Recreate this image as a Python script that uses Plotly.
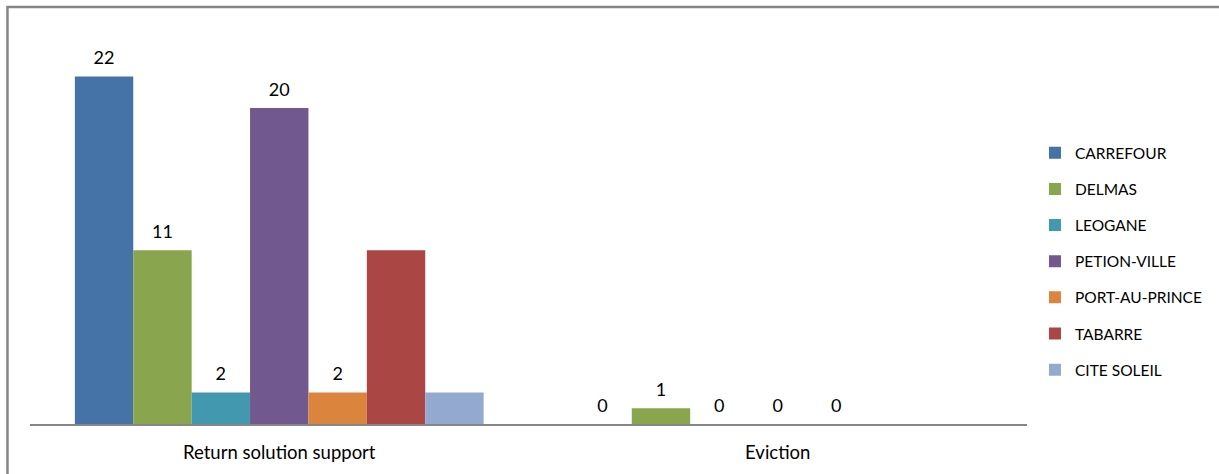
import plotly.graph_objects as go

categories = ["Return solution support", "Eviction"]
series_names = ["CARREFOUR", "DELMAS", "LEOGANE", "PETION-VILLE", "PORT-AU-PRINCE", "TABARRE", "CITE SOLEIL"]
carrefour = [22, 0]
delmas = [11, 1]
leogane = [2, 0]
petion_ville = [20, 0]
port_au_prince = [2, 0]
tabarre = [11, None]
cite_soleil = [2, None]
# which values carry a visible data label in the reference
show_labels = [
    [True, True],
    [True, True],
    [True, True],
    [True, True],
    [True, True],
    [False, False],
    [False, False],
]
colors = ["#4572A7", "#89A54E", "#4198AF", "#71588F", "#DB843D", "#AA4643", "#93A9CF"]

values = [carrefour, delmas, leogane, petion_ville, port_au_prince, tabarre, cite_soleil]
FONT = "Lato, sans-serif"

fig = go.Figure()
for i, (name, vals) in enumerate(zip(series_names, values)):
    fig.add_trace(go.Bar(
        x=categories, y=vals, name=name,
        marker=dict(color=colors[i], line=dict(width=0)),
        offsetgroup=str(i), legendgroup=name,
    ))
for i, (name, vals) in enumerate(zip(series_names, values)):
    texts = [
        (str(v) if (show_labels[i][j] and v is not None) else "")
        for j, v in enumerate(vals)
    ]
    fig.add_trace(go.Scatter(
        x=categories, y=vals, mode="markers+text", text=texts,
        textposition="top center", cliponaxis=False,
        marker=dict(size=11, color="rgba(0,0,0,0)"),
        textfont=dict(family=FONT, size=18, color="#000000"),
        offsetgroup=str(i), showlegend=False, hoverinfo="skip",
    ))

fig.update_layout(
    width=1219, height=474,
    barmode="group", bargap=0.18, bargroupgap=0,
    scattermode="group", scattergap=0.18,
    paper_bgcolor="white", plot_bgcolor="white",
    margin=dict(l=30, r=192, t=29, b=50),
    font=dict(family=FONT, size=18.5, color="#000000"),
    showlegend=True,
    legend=dict(
        x=1.008, xanchor="left", y=0.411, yanchor="middle",
        font=dict(family=FONT, size=15.5, color="#000000"),
        tracegroupgap=13, itemwidth=30,
        bgcolor="rgba(0,0,0,0)",
    ),
    xaxis=dict(
        showline=True, linecolor="#868686", linewidth=1.5,
        ticks="outside", ticklen=11, tickcolor="rgba(0,0,0,0)",
        showgrid=False, zeroline=False,
        tickfont=dict(family=FONT, size=18.5, color="#000000"),
    ),
    yaxis=dict(
        range=[0, 25], visible=False, showgrid=False, zeroline=False,
    ),
    shapes=[dict(
        type="rect", xref="paper", yref="paper",
        x0=-0.0226, x1=1.4, y0=-0.3, y1=1.0557,
        line=dict(color="#868686", width=2.5), fillcolor="rgba(0,0,0,0)",
        layer="below",
    )],
)

fig.write_html("out.html", config={"displayModeBar": False},
               post_script="document.body.style.margin='0px';")
